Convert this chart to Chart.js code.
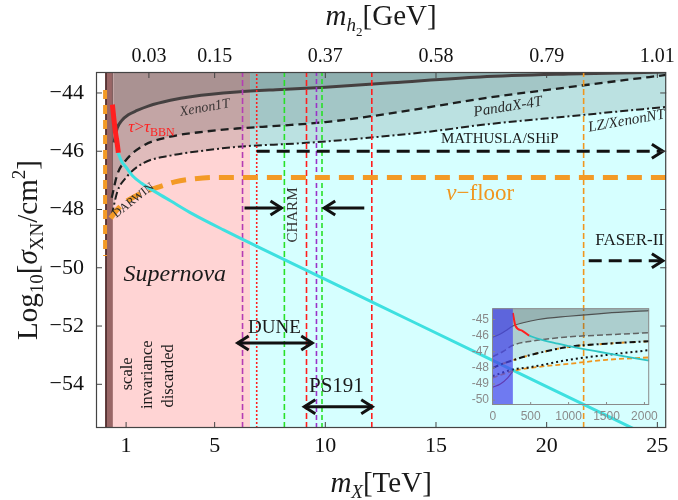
<!DOCTYPE html>
<html>
<head>
<meta charset="utf-8">
<script src="https://cdn.jsdelivr.net/npm/chart.js@4.4.0/dist/chart.umd.min.js"></script>
<style>
html, body { margin: 0; padding: 0; background: #fff; }
#wrap { position: relative; width: 678px; height: 500px; }
#main { position: absolute; left: 0; top: 0; }
#inset { position: absolute; left: 462px; top: 298px; }
</style>
</head>
<body>
<div id="wrap">
  <canvas id="main" width="678" height="500"></canvas>
  <canvas id="inset" width="200" height="128"></canvas>
</div>
<script>
// ---- main panel data: m_X [TeV] vs log10(sigma_XN / cm^2) ----
const xTicks = [1, 5, 10, 15, 20, 25];
const yTicks = [-44, -46, -48, -50, -52, -54];
const topTickPos = [2.03, 5, 10, 15, 20, 25];
const topTickLabels = ['0.03', '0.15', '0.37', '0.58', '0.79', '1.01'];

const xenon1T = [[0.45,-45.7],[0.6,-45.2],[0.8,-44.95],[1.1,-44.75],[1.5,-44.6],[2,-44.45],[3,-44.25],[4,-44.12],[6,-43.97],[8,-43.88],[10,-43.8],[13,-43.65],[17,-43.45],[21,-43.35],[25.4,-43.28]];
const pandaX4T = [[0.35,-47.6],[0.6,-46.8],[1,-46.3],[1.8,-45.8],[3,-45.5],[4.5,-45.33],[6,-45.22],[8,-45.12],[10,-45.0],[12.5,-44.75],[15,-44.45],[17,-44.2],[21,-43.8],[25.4,-43.38]];
const lzXenonNT = [[0.35,-48.2],[0.6,-47.4],[1,-46.9],[1.8,-46.4],[3,-46.15],[4.5,-45.98],[6,-45.85],[9,-45.72],[12.5,-45.5],[15,-45.3],[17,-45.1],[21,-44.8],[25.4,-44.48]];
const bbnLine = [[0.38,-44.4],[0.45,-44.9],[0.52,-45.35],[0.6,-45.75],[0.65,-46.05]];
const relicLine = [[0.63,-46.05],[0.8,-46.35],[1,-46.55],[1.3,-46.85],[1.7,-47.1],[2.4,-47.43],[3,-47.7],[4,-48.15],[5.4,-48.7],[10,-50.4],[14,-51.87],[20,-54.08],[24,-55.55]];
const nuFloor = [[0.3,-48.3],[0.6,-48.0],[0.9,-47.78],[1.4,-47.55],[2,-47.35],[2.5,-47.22],[3.2,-47.05],[4,-46.95],[5,-46.9],[25.4,-46.9]];
const nuFloorEdge = [[0.05,-43.9],[0.05,-49.6]];

// vertical experiment boundaries (m_X)
const expLinesX = [6.26, 6.9, 8.15, 9.15, 9.6, 9.85, 12.1, 21.67];
// shaded ranges (m_X)
const supernovaRange = [0.05, 6.6];
const cyanRange = [6.6, 25.4];
const scaleBand = [0.05, 0.4];

// arrows: [from, to, log10 sigma]
const mathuslaArrow = [6.9, 25.25, -46.0];
const faserArrow = [21.9, 25.25, -49.76];
const charmArrowR = [6.35, 8.02, -47.95];
const charmArrowL = [11.76, 9.95, -47.95];
const duneArrow = [6.04, 9.41, -52.58];
const ps191Arrow = [9.05, 12.12, -54.77];

// ---- inset data: m_X [GeV] ----
const insetTicksX = [0, 500, 1000, 1500, 2000];
const insetTicksY = [-45, -46, -47, -48, -49, -50];
const insetBlue = [0, 265];
const insetXenon = [[0,-46.1],[100,-45.9],[200,-45.6],[265,-45.4],[400,-45.2],[600,-45.0],[1000,-44.8],[1500,-44.6],[2063,-44.45]];
const insetBBN = [[265,-44.6],[300,-45.4],[390,-45.7],[480,-46.0]];
const insetRelic = [[480,-46.0],[600,-46.2],[860,-46.5],[1100,-46.75],[1400,-47.0],[1700,-47.25],[2063,-47.55]];
const insetPanda = [[0,-47.3],[130,-47.0],[265,-46.6],[500,-46.35],[1000,-46.08],[1500,-45.95],[2063,-45.82]];
const insetLZ = [[0,-48.0],[100,-47.8],[265,-47.53],[500,-47.2],[1000,-46.7],[1500,-46.5],[2063,-46.35]];
const insetDarwin = [[0,-48.5],[265,-48.1],[500,-47.95],[1000,-47.5],[1500,-47.2],[2063,-46.9]];
const insetFloor = [[0,-48.6],[265,-48.2],[500,-48.0],[1000,-47.75],[1500,-47.5],[2063,-47.35]];
const insetLow = [[0,-49.2],[100,-49.0],[200,-48.6],[265,-48.2]];

const serif = '"Liberation Serif", "Times New Roman", serif';
const sans = '"Liberation Sans", Arial, sans-serif';
const pts = a => a.map(p => ({x: p[0], y: p[1]}));

function richText(ctx, parts, x, y, o) {
  o = o || {};
  ctx.save();
  ctx.translate(x, y);
  if (o.rot) ctx.rotate(o.rot * Math.PI / 180);
  ctx.fillStyle = o.color || '#1a1a1a';
  ctx.textAlign = 'left';
  ctx.textBaseline = 'alphabetic';
  let w = 0;
  parts.forEach(p => { ctx.font = (p[2] ? 'italic ' : '') + p[1] + 'px ' + serif; w += ctx.measureText(p[0]).width; });
  let cx = o.align === 'left' ? 0 : -w / 2;
  const base = parts[0][1] * 0.33;
  parts.forEach(p => {
    ctx.font = (p[2] ? 'italic ' : '') + p[1] + 'px ' + serif;
    ctx.fillText(p[0], cx, base + (p[3] || 0));
    cx += ctx.measureText(p[0]).width;
  });
  ctx.restore();
}

function head(ctx, x, y, dir) {
  ctx.beginPath();
  ctx.moveTo(x - dir * 11, y - 7);
  ctx.lineTo(x, y);
  ctx.lineTo(x - dir * 11, y + 7);
  ctx.stroke();
}

const backPlugin = {
  id: 'back',
  beforeDatasetsDraw(chart) {
    const {ctx, chartArea: a, scales: {x}} = chart;
    ctx.save();
    ctx.fillStyle = '#ffd4d4';
    ctx.fillRect(x.getPixelForValue(supernovaRange[0]), a.top, x.getPixelForValue(supernovaRange[1]) - x.getPixelForValue(supernovaRange[0]), a.height);
    ctx.fillStyle = '#d6ffff';
    ctx.fillRect(x.getPixelForValue(cyanRange[0]), a.top, x.getPixelForValue(cyanRange[1]) - x.getPixelForValue(cyanRange[0]), a.height);
    const b0 = x.getPixelForValue(scaleBand[0]), b1 = x.getPixelForValue(scaleBand[1]);
    ctx.fillStyle = 'rgba(130,78,78,0.82)';
    ctx.fillRect(b0, a.top, b1 - b0, a.height);
    ctx.strokeStyle = '#4a2c2c';
    ctx.lineWidth = 1.5;
    ctx.beginPath(); ctx.moveTo(b0 + 1, a.top); ctx.lineTo(b0 + 1, a.bottom); ctx.stroke();
    ctx.restore();
  },
  afterDatasetsDraw(chart) {
    const {ctx, scales: {x, y}} = chart;
    ctx.save();
    ctx.strokeStyle = '#111';
    ctx.lineWidth = 3;
    ctx.lineJoin = 'miter';
    const arrow = (a, dashed, both) => {
      const x1 = x.getPixelForValue(a[0]), x2 = x.getPixelForValue(a[1]), yy = y.getPixelForValue(a[2]);
      ctx.setLineDash(dashed ? [13, 7] : []);
      ctx.beginPath(); ctx.moveTo(x1, yy); ctx.lineTo(x2, yy); ctx.stroke();
      ctx.setLineDash([]);
      const dir = x2 > x1 ? 1 : -1;
      head(ctx, x2, yy, dir);
      if (both) head(ctx, x1, yy, -dir);
    };
    arrow(mathuslaArrow, true, false);
    arrow(faserArrow, true, false);
    arrow(charmArrowR, false, false);
    arrow(charmArrowL, false, false);
    arrow(duneArrow, false, true);
    arrow(ps191Arrow, false, true);

    const L = (parts, xv, yv, o) => richText(ctx, parts, x.getPixelForValue(xv), y.getPixelForValue(yv), o);
    L([['Xenon1T', 14, true]], 4.55, -44.48, {rot: -10, color: '#3a3535'});
    L([['\u03c4', 17, true], ['>', 17], ['\u03c4', 17, true], ['BBN', 12, false, 4]], 2.15, -45.13, {color: '#ff2020'});
    L([['PandaX-4T', 15, true]], 18.24, -44.45, {rot: -9, color: '#2a2a2a'});
    L([['LZ/XenonNT', 15, true]], 23.6, -44.93, {rot: -10, color: '#2a2a2a'});
    L([['MATHUSLA/SHiP', 15]], 17.88, -45.55, {color: '#1a1a1a'});
    L([['\u03bd', 23, true], ['\u2212floor', 23]], 17.0, -47.43, {color: '#f0961e'});
    L([['FASER-II', 17]], 23.75, -49.04, {color: '#1a1a1a'});
    L([['Supernova', 24, true]], 3.2, -50.17, {color: '#1a1a1a'});
    L([['DUNE', 19]], 7.7, -52.03, {color: '#1a1a1a'});
    L([['PS191', 21]], 10.5, -54.02, {color: '#1a1a1a'});
    L([['CHARM', 15]], 8.51, -48.19, {rot: -90, color: '#333'});
    L([['DARWIN', 12]], 1.31, -47.67, {rot: -38, color: '#2a2a2a'});
    L([['scale', 16.5]], 1.04, -53.64, {rot: -90});
    L([['invariance', 16.5]], 1.94, -53.67, {rot: -90});
    L([['discarded', 16.5]], 2.88, -53.71, {rot: -90});
    ctx.restore();
  },
  afterDraw(chart) {
    const {ctx, chartArea: a, scales: {x, x2, y}} = chart;
    ctx.save();
    ctx.strokeStyle = '#444';
    ctx.lineWidth = 1.2;
    ctx.strokeRect(a.left + 0.5, a.top + 0.5, a.width - 1, a.height - 1);
    ctx.lineWidth = 1;
    ctx.beginPath();
    xTicks.forEach(v => { const p = x.getPixelForValue(v); ctx.moveTo(p, a.bottom); ctx.lineTo(p, a.bottom - 6); });
    topTickPos.forEach(v => { const p = x2.getPixelForValue(v); ctx.moveTo(p, a.top); ctx.lineTo(p, a.top + 6); });
    yTicks.forEach(v => { const p = y.getPixelForValue(v); ctx.moveTo(a.left, p); ctx.lineTo(a.left + 6, p); ctx.moveTo(a.right, p); ctx.lineTo(a.right - 6, p); });
    ctx.stroke();
    // axis titles
    const cx = (a.left + a.right) / 2;
    richText(ctx, [['m', 29, true], ['X', 19, true, 6], ['[TeV]', 29]], cx, 482);
    richText(ctx, [['m', 29, true], ['h', 19, true, 6], ['2', 13, false, 11], ['[GeV]', 29]], cx, 15);
    richText(ctx, [['Log', 29], ['10', 19, false, 6], ['[', 29], ['\u03c3', 29, true], ['XN', 19, false, 6], ['/cm', 29], ['2', 19, false, -12], [']', 29]], 27, 250, {rot: -90});
    ctx.restore();
  }
};

const vStyles = [
  ['#b43cb4', [6, 3]], ['#ff1e1e', [2, 2]], ['#28e028', [6, 3]], ['#ff1e1e', [6, 3]],
  ['#9a32c8', [5, 3]], ['#28e028', [5, 3]], ['#ff1e1e', [6, 3]], ['#f0961e', [6, 3]]
];
const vDatasets = expLinesX.map((v, i) => ({
  data: pts([[v, -55.5], [v, -43.28]]),
  borderColor: vStyles[i][0], borderDash: vStyles[i][1], borderWidth: 1.6,
  pointRadius: 0, fill: false, order: 6
}));

const tickFont = {family: serif, size: 22};
const mainChart = new Chart(document.getElementById('main'), {
  type: 'line',
  data: {
    datasets: [
      {data: pts(xenon1T), borderColor: '#5a4f4f', borderWidth: 3, fill: 'end', backgroundColor: 'rgba(10,25,25,0.13)', pointRadius: 0, cubicInterpolationMode: 'monotone', order: 9},
      {data: pts(pandaX4T), borderColor: '#1f1f1f', borderWidth: 2.3, borderDash: [8, 5], fill: 'end', backgroundColor: 'rgba(10,25,25,0.13)', pointRadius: 0, cubicInterpolationMode: 'monotone', order: 8},
      {data: pts(lzXenonNT), borderColor: '#1f1f1f', borderWidth: 2, borderDash: [8, 3, 2, 3], fill: 'end', backgroundColor: 'rgba(10,25,25,0.13)', pointRadius: 0, cubicInterpolationMode: 'monotone', order: 7},
      ...vDatasets,
      {data: pts(nuFloor), borderColor: '#f39a26', borderWidth: 5, borderDash: [15, 9], fill: false, pointRadius: 0, cubicInterpolationMode: 'monotone', order: 4},
      {data: pts(nuFloorEdge), borderColor: '#f39a26', borderWidth: 4, borderDash: [9, 6], fill: false, pointRadius: 0, order: 4},
      {data: pts(relicLine), borderColor: '#3ee0e0', borderWidth: 3, fill: false, pointRadius: 0, cubicInterpolationMode: 'monotone', order: 2},
      {data: pts(bbnLine), borderColor: '#ff2020', borderWidth: 5, fill: false, pointRadius: 0, cubicInterpolationMode: 'monotone', order: 1}
    ]
  },
  options: {
    responsive: false,
    animation: false,
    devicePixelRatio: 1,
    layout: {padding: {left: 0, right: 10, top: 0, bottom: 0}},
    plugins: {legend: {display: false}, tooltip: {enabled: false}},
    scales: {
      x: {
        type: 'linear', position: 'bottom', min: -0.36, max: 25.4,
        afterBuildTicks: s => { s.ticks = xTicks.map(v => ({value: v})); },
        afterFit: s => { s.height = 72; },
        grid: {display: false, drawTicks: false}, border: {display: false},
        ticks: {autoSkip: false, maxRotation: 0, padding: 5, color: '#111', font: tickFont}
      },
      x2: {
        type: 'linear', position: 'top', min: -0.36, max: 25.4,
        afterBuildTicks: s => { s.ticks = topTickPos.map(v => ({value: v})); },
        afterFit: s => { s.height = 72; },
        grid: {display: false, drawTicks: false}, border: {display: false},
        ticks: {autoSkip: false, maxRotation: 0, padding: 3, color: '#111', font: {family: serif, size: 20},
          callback: (v, i) => topTickLabels[i]}
      },
      y: {
        type: 'linear', min: -55.5, max: -43.28,
        afterBuildTicks: s => { s.ticks = yTicks.map(v => ({value: v})); },
        afterFit: s => { s.width = 96; },
        grid: {display: false, drawTicks: false}, border: {display: false},
        ticks: {autoSkip: false, padding: 12, color: '#111', font: tickFont,
          callback: v => '\u2212' + Math.abs(v)}
      }
    }
  },
  plugins: [backPlugin]
});

// ---- inset ----
const insetPlugin = {
  id: 'insetDeco',
  afterDatasetsDraw(chart) {
    const {ctx, chartArea: a, scales: {x}} = chart;
    ctx.save();
    const b0 = x.getPixelForValue(insetBlue[0]), b1 = x.getPixelForValue(insetBlue[1]);
    ctx.fillStyle = 'rgba(70,70,235,0.72)';
    ctx.fillRect(b0, a.top, b1 - b0, a.height);
    ctx.restore();
  },
  afterDraw(chart) {
    const {ctx, chartArea: a, scales: {x, y}} = chart;
    ctx.save();
    ctx.strokeStyle = '#8a8a8a';
    ctx.lineWidth = 1;
    ctx.strokeRect(a.left + 0.5, a.top + 0.5, a.width - 1, a.height - 1);
    ctx.beginPath();
    insetTicksX.forEach(v => { const p = x.getPixelForValue(v); ctx.moveTo(p, a.bottom); ctx.lineTo(p, a.bottom - 3); });
    insetTicksY.forEach(v => { const p = y.getPixelForValue(v); ctx.moveTo(a.left, p); ctx.lineTo(a.left + 3, p); });
    ctx.stroke();
    ctx.restore();
  }
};

const insetFont = {family: sans, size: 12};
const insetChart = new Chart(document.getElementById('inset'), {
  type: 'line',
  data: {
    datasets: [
      {data: pts(insetXenon), borderColor: '#555', borderWidth: 1.2, fill: 'end', backgroundColor: 'rgba(60,70,70,0.2)', pointRadius: 0, cubicInterpolationMode: 'monotone', order: 8},
      {data: pts(insetPanda), borderColor: '#666', borderWidth: 1.5, borderDash: [6, 3], fill: 'end', backgroundColor: 'rgba(60,70,70,0.16)', pointRadius: 0, cubicInterpolationMode: 'monotone', order: 7},
      {data: pts(insetLZ), borderColor: '#111', borderWidth: 2, borderDash: [6, 3, 2, 3], fill: 'end', backgroundColor: 'rgba(60,70,70,0.12)', pointRadius: 0, cubicInterpolationMode: 'monotone', order: 5},
      {data: pts(insetLZ), borderColor: '#f0961e', borderWidth: 2, borderDash: [3, 8], fill: false, pointRadius: 0, cubicInterpolationMode: 'monotone', order: 6},
      {data: pts(insetDarwin), borderColor: '#111', borderWidth: 2, borderDash: [2, 3], fill: false, pointRadius: 0, cubicInterpolationMode: 'monotone', order: 4},
      {data: pts(insetFloor), borderColor: '#f0961e', borderWidth: 1.8, borderDash: [5, 3], fill: false, pointRadius: 0, cubicInterpolationMode: 'monotone', order: 4},
      {data: pts(insetLow), borderColor: '#a02020', borderWidth: 1.2, fill: false, pointRadius: 0, cubicInterpolationMode: 'monotone', order: 4},
      {data: pts(insetRelic), borderColor: '#2ec4c4', borderWidth: 1.8, fill: false, pointRadius: 0, cubicInterpolationMode: 'monotone', order: 2},
      {data: pts(insetBBN), borderColor: '#ff2020', borderWidth: 2, fill: false, pointRadius: 0, cubicInterpolationMode: 'monotone', order: 1}
    ]
  },
  options: {
    responsive: false,
    animation: false,
    devicePixelRatio: 1,
    layout: {padding: {left: 0, right: 7, top: 5, bottom: 0}},
    plugins: {legend: {display: false}, tooltip: {enabled: false}},
    scales: {
      x: {
        type: 'linear', min: -10, max: 2063,
        afterBuildTicks: s => { s.ticks = insetTicksX.map(v => ({value: v})); },
        afterFit: s => { s.height = 21; },
        grid: {display: false, drawTicks: false}, border: {display: false},
        ticks: {autoSkip: false, maxRotation: 0, padding: 4, color: '#8a8a8a', font: insetFont, callback: v => String(v)}
      },
      y: {
        type: 'linear', min: -50.3, max: -44.3,
        afterBuildTicks: s => { s.ticks = insetTicksY.map(v => ({value: v})); },
        afterFit: s => { s.width = 30; },
        grid: {display: false, drawTicks: false}, border: {display: false},
        ticks: {autoSkip: false, padding: 3, color: '#8a8a8a', font: insetFont, callback: v => String(v)}
      }
    }
  },
  plugins: [insetPlugin]
});
</script>
</body>
</html>
